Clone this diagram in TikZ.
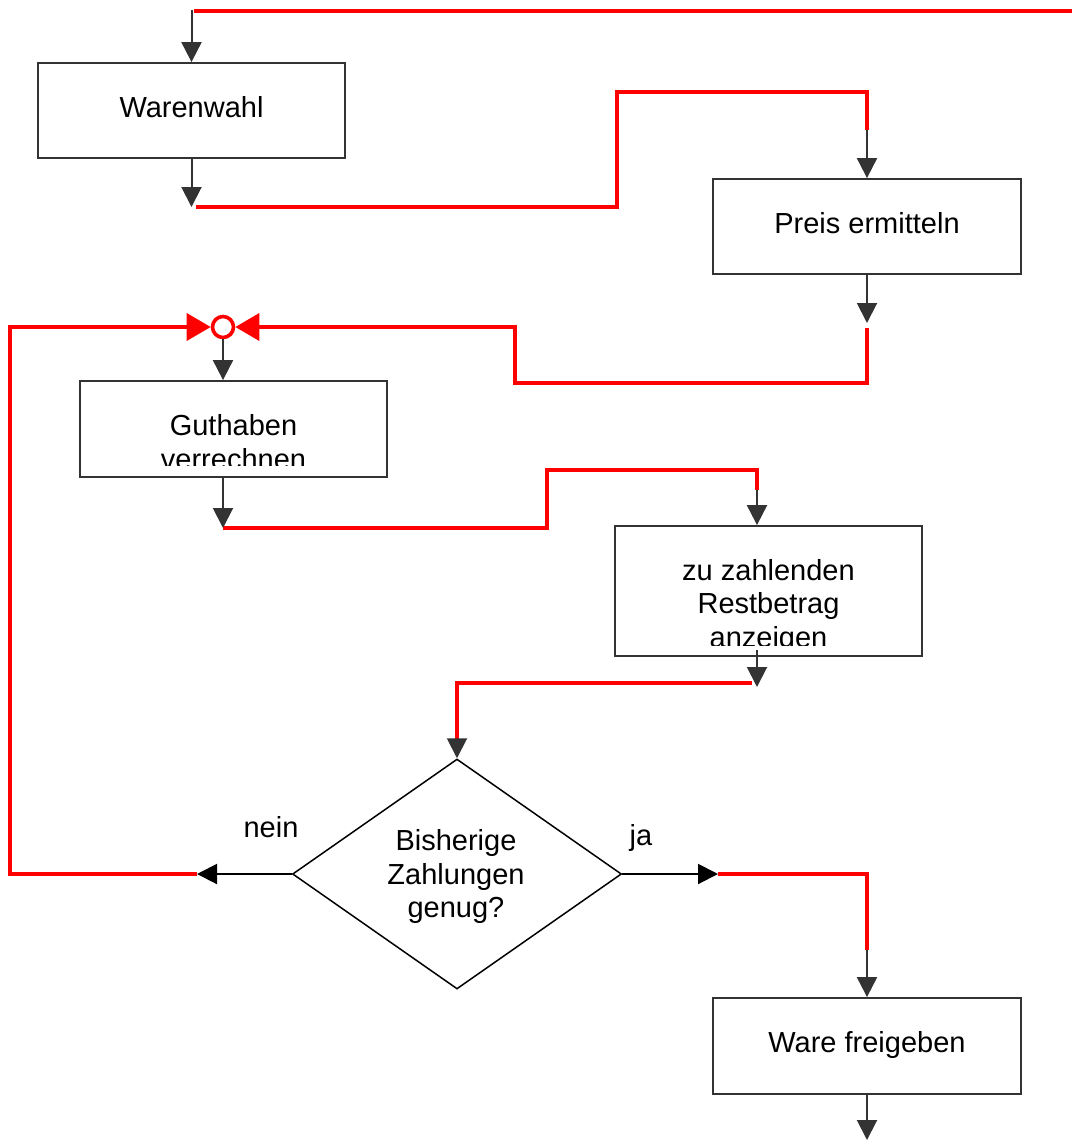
\documentclass[tikz,border=0pt]{standalone}
\usepackage{fontspec}
\setmainfont{Liberation Sans}
\usetikzlibrary{arrows.meta,shapes.geometric}
\definecolor{dg}{HTML}{333333}
\definecolor{rd}{HTML}{FF0000}
\begin{document}
\begin{tikzpicture}[x=1pt,y=-1pt,
  box/.style={draw=dg, line width=1.8pt, minimum width=307pt, inner sep=0pt},
  lbl/.style={anchor=base, inner sep=0pt, font=\fontsize{29}{33.5}\selectfont},
  flow/.style={draw=dg, line width=2pt, -{Triangle[width=20pt,length=20pt]}},
  bflow/.style={draw=black, line width=2pt, -{Triangle[width=20pt,length=20pt]}},
  redline/.style={draw=rd, line width=3.6pt},
  redarrow/.style={redline, -{Triangle[width=27pt,length=24pt]}}
]
\useasboundingbox (0,0) rectangle (1072,1140);

% boxes
\node[box, minimum height=95pt] (ware) at (191.5,110.5) {};
\node[box, minimum height=95pt, minimum width=308pt] (preis) at (867,226.5) {};
\node[box, minimum height=96pt] (gut) at (233.5,429) {};
\node[box, minimum height=130pt] (zu) at (768.5,591) {};
\node[draw=black, line width=1.5pt, diamond, minimum width=329pt, minimum height=230pt, inner sep=0pt] (dia) at (457,874) {};
\node[box, minimum height=96pt, minimum width=308pt] (frei) at (867,1046) {};
\node[circle, draw=rd, line width=3.6pt, minimum size=21pt, inner sep=0pt] (circ) at (223,327) {};

% coordinates
\coordinate (start) at (191.5,10);
\coordinate (w1) at (191.5,207);
\coordinate (w2) at (196,207);
\coordinate (p0) at (867,130);
\coordinate (p1) at (867,323);
\coordinate (p2) at (867,328);
\coordinate (g1) at (223,528);
\coordinate (z0) at (757,490);
\coordinate (z1) at (757,650);
\coordinate (z2) at (757,687);
\coordinate (z3) at (752,683);
\coordinate (d0) at (457,740);
\coordinate (nl) at (197,874);
\coordinate (nr) at (718,874);
\coordinate (f0) at (867,950);
\coordinate (endp) at (867,1140);

% red connectors
\draw[redline] (193.5,11) -- (1072,11);
\draw[redline] (w2) -| (617,92) -| (p0);
\draw[redarrow] (p2) |- (515,383) |- (circ.east);
\draw[redarrow] (nl) -| (10,327) -- (circ.west);
\draw[redline] (g1) -| (547,470) -| (z0);
\draw[redline] (z3) -| (d0);
\draw[redline] (nr) -| (f0);

% gray / black arrows
\draw[flow] (start) -- (ware.north);
\draw[flow] (ware.south) -- (w1);
\draw[flow] (p0) -- (preis.north);
\draw[flow] (preis.south) -- (p1);
\draw[flow] (circ.south) -- (circ.south |- gut.north);
\draw[flow] (circ.south |- gut.south) -- (g1);
\draw[flow] (z0) -- (z0 |- zu.north);
\draw[flow] (z1) -- (z2);
\draw[flow] (d0) -- (dia.north);
\draw[bflow] (dia.west) -- (nl);
\draw[bflow] (dia.east) -- (nr);
\draw[flow] (f0) -- (frei.north);
\draw[flow] (frei.south) -- (endp);

% texts
\node[lbl] (t1) at (191.5,117) {Warenwahl};
\node[lbl] (t2) at (867,233) {Preis ermitteln};
\begin{scope}
  \clip (81,382) rectangle (386,465);
  \node[lbl] (t3a) at (233.5,435) {Guthaben};
  \node[lbl] (t3b) at (233.5,469) {verrechnen};
\end{scope}
\begin{scope}
  \clip (616,527) rectangle (921,645);
  \node[lbl] (t4a) at (768.5,580) {zu zahlenden};
  \node[lbl] (t4b) at (768.5,613) {Restbetrag};
  \node[lbl] (t4c) at (768.5,647) {anzeigen};
\end{scope}
\node[lbl] (t5a) at (456,850) {Bisherige};
\node[lbl] (t5b) at (456,884) {Zahlungen};
\node[lbl] (t5c) at (456,917) {genug?};
\node[lbl] (nein) at (271,837) {nein};
\node[lbl] (ja) at (641,845) {ja};
\node[lbl] (t6) at (867,1052) {Ware freigeben};
\end{tikzpicture}
\end{document}
